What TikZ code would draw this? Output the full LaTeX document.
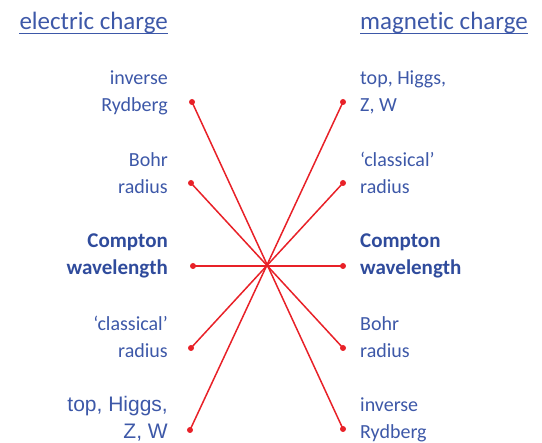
\documentclass[tikz,border=0pt]{standalone}
\usepackage{fontspec}
\setmainfont{Carlito}[Ligatures=NoCommon]
\newfontfamily\arialf{Liberation Sans}
\definecolor{txtblue}{HTML}{3D58A8}
\definecolor{boldblue}{HTML}{2F4B9C}
\definecolor{linered}{HTML}{E82128}
\begin{document}
\begin{tikzpicture}[x=1pt,y=-1pt,
  lbl/.style={inner sep=0pt, text=txtblue, font=\fontsize{20}{27}\selectfont},
  lleft/.style={lbl, anchor=base east, align=right},
  lright/.style={lbl, anchor=base west, align=left},
  bold/.style={text=boldblue, font=\fontsize{21}{27}\selectfont\bfseries},
  title/.style={inner sep=0pt, text=txtblue, font=\fontsize{25}{30}\selectfont},
  uline/.style={draw=txtblue, line width=0.9pt},
  conn/.style={draw=linered, line width=1.5pt},
  dot/.style={circle, fill=linered, inner sep=0pt, minimum size=6pt}]
\useasboundingbox (0,0) rectangle (542,443);
% titles
\node[title, anchor=base east] (tl) at (168,29.5) {electric charge};
\node[title, anchor=base west] (tr) at (360,29.5) {magnetic charge};
\draw[uline] ([yshift=-3.5pt]tl.base west) -- ([yshift=-3.5pt]tl.base east);
\draw[uline] ([yshift=-3.5pt]tr.base west) -- ([yshift=-3.5pt]tr.base east);
% left labels (base = baseline of last line)
\node[lleft] (l1) at (168,112) {inverse\\Rydberg};
\node[lleft] (l2) at (168,194) {Bohr\\radius};
\node[lleft, bold] (l3) at (168,275) {Compton\\wavelength};
\node[lleft] (l4) at (168,358) {‘classical’\\radius};
\node[lleft, font=\arialf\fontsize{21}{27}\selectfont] (l5) at (168,439) {top, Higgs,\\Z, W};
% right labels
\node[lright] (r1) at (360,112) {top, Higgs,\\Z, W};
\node[lright] (r2) at (360,194) {‘classical’\\radius};
\node[lright, bold] (r3) at (360,275) {Compton\\wavelength};
\node[lright] (r4) at (360,358) {Bohr\\radius};
\node[lright] (r5) at (360,439) {inverse\\Rydberg};
% dots
\node[dot] (a1) at (192,102) {};
\node[dot] (a2) at (191,183) {};
\node[dot] (a3) at (193,266) {};
\node[dot] (a4) at (191,348) {};
\node[dot] (a5) at (190,430) {};
\node[dot] (b1) at (343,102) {};
\node[dot] (b2) at (343,183) {};
\node[dot] (b3) at (343,266) {};
\node[dot] (b4) at (343,348) {};
\node[dot] (b5) at (343,429) {};
% connectors
\draw[conn] (a1.center) -- (b5.center);
\draw[conn] (a2.center) -- (b4.center);
\draw[conn] (a3.center) -- (b3.center);
\draw[conn] (a4.center) -- (b2.center);
\draw[conn] (a5.center) -- (b1.center);
\end{tikzpicture}
\end{document}
